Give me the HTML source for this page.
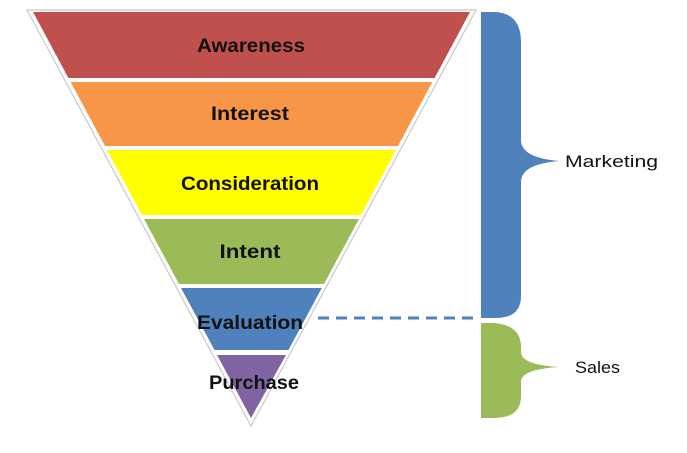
<!DOCTYPE html>
<html><head><meta charset="utf-8"><style>
html,body{margin:0;padding:0;background:#fff;width:687px;height:453px;overflow:hidden}
svg text{font-family:"Liberation Sans",sans-serif}
</style></head><body>
<svg width="687" height="453" viewBox="0 0 687 453" xmlns="http://www.w3.org/2000/svg">
<polygon points="27,10 476,10 251,426" fill="#fff" stroke="#c8c8c8" stroke-width="1.2"/>
<polygon points="33,12 470,12 434.6,78 68.4,78" fill="#c0504d"/>
<polygon points="70.6,82 432.4,82 398,146 105,146" fill="#f79646"/>
<polygon points="107,150 396,150 361,215 142,215" fill="#ffff00"/>
<polygon points="144,219 359,219 324,284 179,284" fill="#9bbb59"/>
<polygon points="181,288 321.8,288 288.5,350 214.5,350" fill="#4f81bd"/>
<polygon points="217,355 286,355 251,418" fill="#8064a2"/>
<g font-weight="bold" font-size="19" fill="#111" text-anchor="middle">
<text x="251" y="52" textLength="108" lengthAdjust="spacingAndGlyphs">Awareness</text>
<text x="250" y="120" textLength="78" lengthAdjust="spacingAndGlyphs">Interest</text>
<text x="250" y="190" textLength="138" lengthAdjust="spacingAndGlyphs">Consideration</text>
<text x="250" y="258" textLength="61" lengthAdjust="spacingAndGlyphs">Intent</text>
<text x="250" y="329" textLength="106" lengthAdjust="spacingAndGlyphs">Evaluation</text>
<text x="254" y="389" textLength="90" lengthAdjust="spacingAndGlyphs">Purchase</text>
</g>
<line x1="318" y1="318" x2="478" y2="318" stroke="#4f81bd" stroke-width="3" stroke-dasharray="11,7"/>
<path d="M481,12 H496 Q521,14 521,42 V140 Q521,158 560,161 Q521,164 521,182 V296 Q521,318 496,318 H481 Z" fill="#4f81bd"/>
<path d="M481,323 H494 Q521,325 521,347 V352 Q521,365 560,367 Q521,369 521,382 V396 Q521,418 494,418 H481 Z" fill="#9bbb59"/>
<text x="565" y="167" font-size="17" fill="#111" textLength="93" lengthAdjust="spacingAndGlyphs">Marketing</text>
<text x="575" y="373" font-size="17" fill="#111" textLength="45" lengthAdjust="spacingAndGlyphs">Sales</text>
</svg>
</body></html>
